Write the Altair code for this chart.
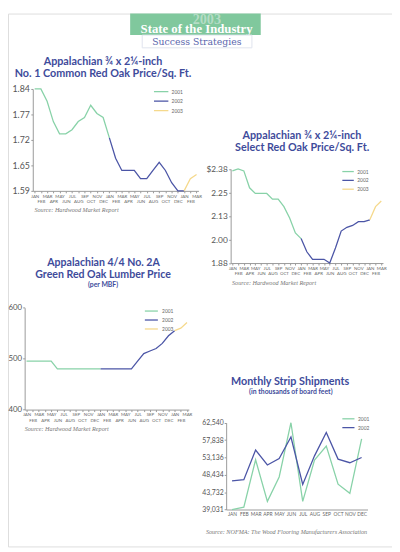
import json
import altair as alt
import pandas as pd

W, H = 392, 544

MONTHS = ["JAN", "FEB", "MAR", "APR", "MAY", "JUN", "JUL", "AUG", "SEP", "OCT", "NOV", "DEC"]
SERIES = ["2001", "2002", "2003"]
COLORS = ["#88d2a8", "#4b55a6", "#f5d98c"]

# Panel 1: Appalachian 3/4 x 2-1/4 No. 1 Common Red Oak, price per sq. ft.
p1_2001 = [1.84, 1.84, 1.81, 1.76, 1.73, 1.73, 1.74, 1.76, 1.77, 1.80, 1.78, 1.77]
p1_2002 = [1.72, 1.67, 1.64, 1.64, 1.64, 1.62, 1.62, 1.64, 1.66, 1.64, 1.61, 1.59]
p1_2003 = [1.59, 1.62, 1.63]
p1_ylabels = ["1.59", "1.65", "1.72", "1.77", "1.84"]

# Panel 2: Appalachian 3/4 x 2-1/4 Select Red Oak, price per sq. ft.
p2_2001 = [2.37, 2.38, 2.37, 2.28, 2.25, 2.25, 2.25, 2.22, 2.22, 2.18, 2.12, 2.04]
p2_2002 = [2.01, 1.94, 1.90, 1.90, 1.90, 1.88, 1.96, 2.05, 2.07, 2.08, 2.10, 2.10]
p2_2003 = [2.11, 2.18, 2.21]
p2_ylabels = ["1.88", "2.00", "2.13", "2.25", "$2.38"]

# Panel 3: Appalachian 4/4 No. 2A Green Red Oak lumber, per MBF
p3_2001 = [495, 495, 495, 495, 495, 480, 480, 480, 480, 480, 480, 480]
p3_2002 = [480, 480, 480, 480, 480, 480, 495, 510, 515, 520, 530, 545]
p3_2003 = [555, 560, 571]
p3_yticks = [400, 500, 600]

# Panel 4: Monthly strip shipments (thousands of board feet)
p4_2001 = [39031, 39650, 52500, 41230, 47840, 62540, 41230, 52410, 56200, 45900, 43430, 58140]
p4_2002 = [46780, 47130, 55140, 51090, 52860, 58670, 45810, 53560, 59900, 52680, 51710, 53120]
p4_yticks = [39031, 43732, 48434, 53136, 57838, 62540]

TITLE_BLUE = "#3e4b9b"
TITLE_FONT = "Lato"
SANS = "Lato"
SERIF = "Liberation Serif"


def monthly_frame(a, b, c):
    rows = []
    parts = [("2001", a, 0, b[:1]), ("2002", b, 12, c[:1]), ("2003", c, 24, [])]
    for name, vals, start, nxt in parts:
        for i, v in enumerate(list(vals) + list(nxt)):
            rows.append({"m": start + i, "v": v, "s": name})
    return pd.DataFrame(rows)


MJS = json.dumps(MONTHS)
TIME_LABELS = f"datum.value % 2 == 0 ? {MJS}[datum.value % 12] : ['', {MJS}[datum.value % 12]]"


def legend(lx, ly, path, loff, rpad):
    return alt.Legend(orient="none", legendX=lx, legendY=ly, title=None, symbolType=path,
                      symbolSize=49, symbolStrokeWidth=1.3, labelFontSize=5, labelFont=SANS,
                      labelColor="#666666", labelOffset=loff, rowPadding=rpad, padding=0)


def time_panel(df, xr, ydom, yr, yvals, ylabel_expr, yfs, ypad, leg, ncol):
    x = alt.X("m:Q", title=None,
              scale=alt.Scale(domain=[-0.3, 26.3], range=xr, nice=False, zero=False),
              axis=alt.Axis(orient="bottom", offset=yr[0] - H, values=list(range(27)),
                            labelExpr=TIME_LABELS, labelFontSize=4.5, labelFont=SANS,
                            labelColor="#666666", tickSize=2, tickColor="#999999",
                            domainColor="#999999", labelPadding=0.5, labelLineHeight=5.7,
                            labelOverlap=False, labelFlush=False, labelBound=False,
                            labelAngle=0, labelBaseline="top", grid=False))
    yaxis = dict(orient="left", offset=-xr[0], values=yvals, labelFontSize=yfs, labelFont=SANS,
                 labelColor="#555555", tickSize=2, tickColor="#999999", domainColor="#999999",
                 labelPadding=ypad, labelOverlap=False, labelFlush=False, labelBound=False, grid=False)
    if ylabel_expr:
        yaxis["labelExpr"] = ylabel_expr
    else:
        yaxis["format"] = "d"
    y = alt.Y("v:Q", title=None,
              scale=alt.Scale(domain=ydom, range=yr, nice=False, zero=False),
              axis=alt.Axis(**yaxis))
    return alt.Chart(df).mark_line(strokeWidth=1.3).encode(
        x=x, y=y,
        color=alt.Color("s:N", scale=alt.Scale(domain=SERIES[:ncol], range=COLORS[:ncol]), legend=leg),
    )


def label_expr(labels, lo, step):
    return f"{json.dumps(labels)}[round((datum.value - {lo}) / {step})]"


one = pd.DataFrame({"k": [0]})


def txt(s, x, y, size, color=TITLE_BLUE, font=TITLE_FONT, weight="bold", style="normal",
        align="center", baseline="middle"):
    return alt.Chart(one).mark_text(text=s, font=font, fontSize=size, fontWeight=weight,
                                    fontStyle=style, color=color, align=align,
                                    baseline=baseline).encode(x=alt.value(x), y=alt.value(y))


def box(x1, x2, y1, y2, fill, stroke=None):
    kw = dict(fill=fill)
    if stroke:
        kw.update(stroke=stroke, strokeWidth=1)
    return alt.Chart(one).mark_rect(**kw).encode(
        x=alt.value(x1), x2=alt.value(x2), y=alt.value(y1), y2=alt.value(y2))


# ---- panels ----
pan1 = time_panel(monthly_frame(p1_2001, p1_2002, p1_2003), [25.3, 194.4], [1.59, 1.84], [181, 77],
                  [1.59 + 0.0625 * k for k in range(5)], label_expr(p1_ylabels, 1.59, 0.0625), 9, 1.5,
                  legend(151.85, 75.2, "M-2.1,0H2.1", 6.15, 1.7), 3)
pan2 = time_panel(monthly_frame(p2_2001, p2_2002, p2_2003), [227.3, 382.8], [1.88, 2.38], [254.7, 158.7],
                  [1.88 + 0.125 * k for k in range(5)], label_expr(p2_ylabels, 1.88, 0.125), 8.5, 1.5,
                  legend(342.65, 156.8, "M-1.67,0H1.67", 4.85, 1.0), 3)
pan3 = time_panel(monthly_frame(p3_2001, p3_2002, p3_2003), [17.0, 184.6], [400, 600], [404.3, 300.3],
                  p3_yticks, None, 8, 1.2,
                  legend(141.85, 299.2, "M-1.9,0H1.9", 6.45, 1.15), 3)

p4 = pd.DataFrame(
    [{"m": i, "v": v, "s": "2001"} for i, v in enumerate(p4_2001)]
    + [{"m": i, "v": v, "s": "2002"} for i, v in enumerate(p4_2002)]
)
pan4 = alt.Chart(p4).mark_line(strokeWidth=1.3).encode(
    x=alt.X("m:Q", title=None,
            scale=alt.Scale(domain=[-0.5, 11.5], range=[222.7, 367], nice=False, zero=False),
            axis=alt.Axis(orient="bottom", offset=506.3 - H, values=list(range(12)),
                          labelExpr=f"{MJS}[datum.value]", labelFontSize=5, labelFont=SANS,
                          labelColor="#666666", tickSize=0, domainColor="#999999", labelPadding=2,
                          labelOverlap=False, labelFlush=False, labelBound=False, labelAngle=0,
                          labelBaseline="top", grid=False)),
    y=alt.Y("v:Q", title=None,
            scale=alt.Scale(domain=[39031, 62540], range=[506.3, 417.7], nice=False, zero=False),
            axis=alt.Axis(orient="left", offset=-222.7, values=p4_yticks, format=",d", labelFontSize=7,
                          labelFont=SANS, labelColor="#555555", tickSize=2, tickColor="#999999",
                          domainColor="#999999", labelPadding=1, labelOverlap=False, labelFlush=False,
                          labelBound=False, grid=False)),
    color=alt.Color("s:N", scale=alt.Scale(domain=SERIES[:2], range=COLORS[:2]),
                    legend=legend(343, 409.2, "M-1.77,0H1.77", 5.3, 1.0)),
)

# ---- banner ----
banner = [
    box(124.7, 258, 0, 22, "#80c89d"),
    txt("2003", 203, 10.8, 14.5, color="#b5dcc5", font=SERIF, baseline="alphabetic"),
    txt("State of the Industry", 192.5, 20, 13, color="#ffffff", font=SERIF, baseline="alphabetic"),
    box(137, 249, 22, 35, "#ffffff", stroke="#dfe3ee"),
    txt("Success Strategies", 192.8, 28.8, 9.5, color="#5b67ae", font="DejaVu Serif", weight="normal"),
]

titles = [
    txt("Appalachian ¾ x 2¼-inch", 97, 50, 11),
    txt("No. 1 Common Red Oak Price/Sq. Ft.", 97, 62, 11),
    txt("Appalachian ¾ x 2¼-inch", 300, 125, 11),
    txt("Select Red Oak Price/Sq. Ft.", 300.3, 137, 11),
    txt("Appalachian 4/4 No. 2A", 97.5, 254.8, 10.8),
    txt("Green Red Oak Lumber Price", 97, 267, 10.8),
    txt("(per MBF)", 97, 277.5, 7),
    txt("Monthly Strip Shipments", 288, 376, 11),
    txt("(in thousands of board feet)", 288.7, 386.5, 7),
]

SRC = dict(font=SERIF, weight="normal", style="italic", color="#777777", align="left")
sources = [
    txt("Source: Hardwood Market Report", 27, 201, 6.3, **SRC),
    txt("Source: Hardwood Market Report", 228.7, 275, 6.3, **SRC),
    txt("Source: Hardwood Market Report", 17, 423.7, 6.3, **SRC),
    txt("Source: NOFMA: The Wood Flooring Manufacturers Association", 202, 529.7, 6.3, **SRC),
]

chart = alt.layer(*banner, *titles, *sources, pan1, pan2, pan3, pan4).resolve_scale(
    x="independent", y="independent", color="independent"
).resolve_axis(x="independent", y="independent").resolve_legend(color="independent").properties(
    width=W, height=H, padding=0, autosize=alt.AutoSizeParams(type="none")
).configure_view(stroke=None).configure(background="#ffffff")

chart.save("out.html", embed_options={"renderer": "svg", "actions": False})
